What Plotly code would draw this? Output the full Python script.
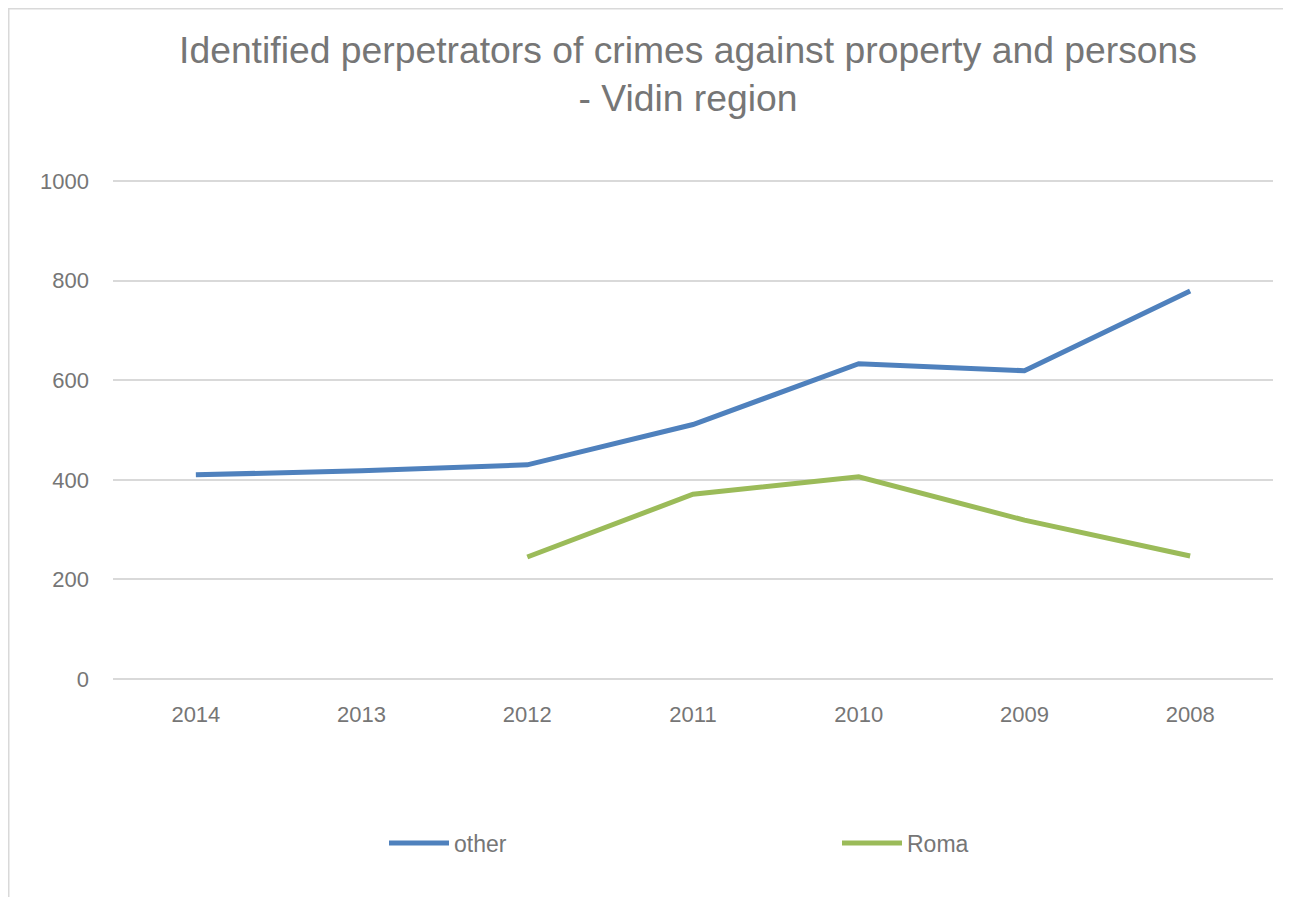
import plotly.graph_objects as go

years = ["2014", "2013", "2012", "2011", "2010", "2009", "2008"]
other = [410, 418, 430, 511, 633, 619, 779]
roma = [None, None, 245, 371, 406, 319, 247]
y_ticks = [0, 200, 400, 600, 800, 1000]

# page body has an 8px margin; work in screen coordinates and convert
OFF = 8
W, H = 1291 - OFF, 897 - OFF
# screen coords of plot area (value 0 at y=679, 1000 at y=181)
SL, SR, ST, SB = 113, 1273, 176, 684
L, R, T, B = SL - OFF, W - (SR - OFF), ST - OFF, H - (SB - OFF)
pw, ph = W - L - R, H - T - B

def px(x):
    return (x - OFF - L) / pw

def py(y):
    return (H - B - (y - OFF)) / ph

text_color = "#767676"
font_family = "Liberation Sans, Arial, sans-serif"

fig = go.Figure()
fig.add_trace(go.Scatter(x=years, y=other, mode="lines", name="other",
                         line=dict(color="#4f81bd", width=5)))
fig.add_trace(go.Scatter(x=years, y=roma, mode="lines", name="Roma",
                         line=dict(color="#9bbb59", width=5)))

fig.update_layout(
    width=W, height=H,
    margin=dict(l=L, r=R, t=T, b=B, autoexpand=False),
    paper_bgcolor="white", plot_bgcolor="white",
    font=dict(family=font_family, color=text_color, size=22),
    title=dict(
        text="Identified perpetrators of crimes against property and persons<br>- Vidin region",
        x=px(688), xref="paper", xanchor="center",
        y=1 - 54.5 / H, yref="container", yanchor="middle",
        font=dict(size=37.3, color=text_color, family=font_family),
    ),
    xaxis=dict(
        type="category", categoryorder="array", categoryarray=years,
        range=[-0.5, 6.5], showgrid=False, showline=False, zeroline=False,
        ticks="", ticklabelstandoff=15,
        tickfont=dict(size=22, color=text_color),
    ),
    yaxis=dict(
        range=[-10, 1010], tickvals=y_ticks, showgrid=True, gridcolor="#d9d9d9",
        gridwidth=2, zeroline=False, showline=False, ticks="",
        ticklabelstandoff=23, tickfont=dict(size=22, color=text_color),
    ),
    legend=dict(
        orientation="h", x=px(384), xanchor="left", y=py(843), yanchor="middle",
        entrywidth=378, entrywidthmode="pixels", itemwidth=60,
        font=dict(size=23, color=text_color), bgcolor="rgba(0,0,0,0)",
    ),
    shapes=[
        dict(type="rect", xref="paper", yref="paper",
             x0=px(OFF + 0.5), x1=px(1287), y0=py(910), y1=py(OFF + 0.5),
             line=dict(color="#d9d9d9", width=2), fillcolor="rgba(0,0,0,0)",
             layer="below"),
    ],
)

fig.write_html("out.html")
